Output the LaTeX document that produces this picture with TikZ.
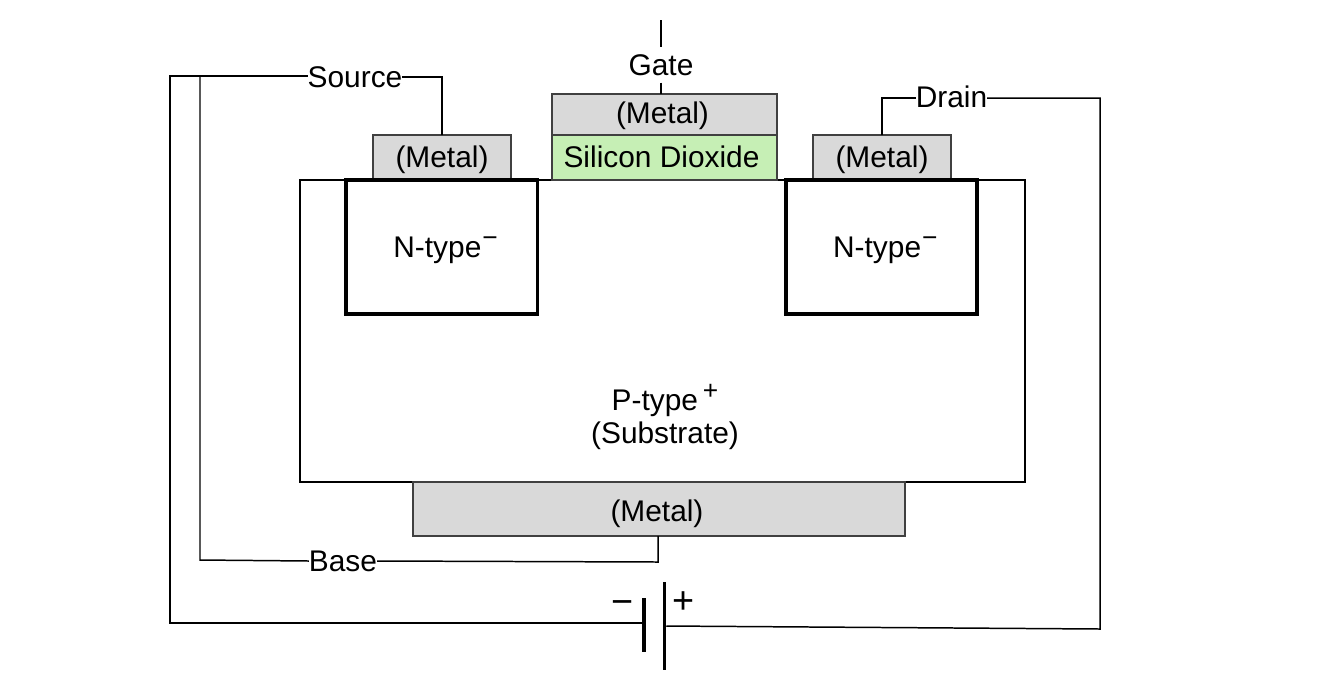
\documentclass[tikz,border=0pt]{standalone}
\usepackage{fontspec}
\setmainfont{Liberation Sans}
\definecolor{metalgray}{HTML}{D9D9D9}
\definecolor{metaledge}{HTML}{404040}
\definecolor{oxidegreen}{HTML}{C6EFB5}
\newcommand{\supsign}[1]{\raisebox{6.5pt}{\fontsize{15}{15}\selectfont #1}}
\begin{document}
\begin{tikzpicture}[x=0.02cm,y=0.02cm]
	  \tikzstyle{every node}+=[inner sep=0pt,outer sep=0pt,font=\fontsize{17}{20.5}\selectfont]
	  \tikzstyle{wire}=[black,line width=0.85pt]
	  \tikzstyle{metal}=[draw=metaledge,fill=metalgray,line width=1pt]
	  \tikzstyle{region}=[draw=black,line width=2.2pt,text height=16pt]
	  \tikzstyle{plate}=[fill=black,minimum width=0.07cm]
	  \tikzstyle{sign}=[font=\fontsize{21.5}{24}\selectfont]
	  \useasboundingbox (0,0) rectangle (1323,-698);
	  \node [draw=black,line width=0.85pt,minimum width=14.5cm,minimum height=6.04cm] (substrate) at (662.5,-331) {};
	  \node [align=center] (subtext) at (665,-417) {P-type\,\supsign{+}\\[-1.6pt](Substrate)};
	  \node [metal,text height=14.7pt,minimum width=2.76cm,minimum height=0.9cm] (sourcemetal) at (442,-157.5) {(Metal)};
	  \node [metal,text height=14.7pt,minimum width=2.76cm,minimum height=0.9cm] (drainmetal) at (882,-157.5) {(Metal)};
	  \node [metal,text height=13.6pt,minimum width=4.5cm,minimum height=0.82cm] (gatemetal) at (664.5,-114.5) {(Metal)\hspace*{2.3pt}};
	  \node [metal,fill=oxidegreen,text depth=1.1pt,minimum width=4.5cm,minimum height=0.9cm] (oxide) at (664.5,-157.5) {Silicon Dioxide\hspace*{3.4pt}};
	  \node [metal,text height=18pt,minimum width=9.84cm,minimum height=1.08cm] (basemetal) at (659,-509) {(Metal)\hspace*{2.3pt}};
	  \node [region,minimum width=3.83cm,minimum height=2.68cm] (nleft) at (441.75,-247) {\hspace*{4.4pt}N-type\hspace{0.6pt}\supsign{−}};
	  \node [region,minimum width=3.82cm,minimum height=2.68cm] (nright) at (881.5,-247) {\hspace*{4.4pt}N-type\hspace{0.6pt}\supsign{−}};
	  \node (source) at (355,-77) {Source};
	  \node (base) at (343,-561) {Base};
	  \node (drain) at (951.5,-97) {Drain};
	  \node [inner ysep=4pt] (gate) at (661,-65) {Gate};
	  \node [plate,minimum height=1.08cm] (negplate) at (644,-625) {};
	  \node [plate,minimum height=1.76cm] (posplate) at (664.5,-626) {};
	  \node [sign] (minus) at (623,-608) {−};
	  \node [sign] (plus) at (684,-603) {+};
	  \coordinate (gatetop) at (661,-20);
	  \coordinate (outertop) at (170,-76);
	  \coordinate (outerbot) at (170,-623);
	  \coordinate (innertop) at (200,-76);
	  \coordinate (innerbot) at (200,-560);
	  \coordinate (baseturn) at (658,-562);
	  \coordinate (drainturn) at (1100,-98);
	  \coordinate (batturn) at (1100,-629);
	  \draw [wire] (gatetop) -- (gate.north);
	  \draw [wire] (gate.south) -- (gate.south |- gatemetal.north);
	  \draw [wire] (sourcemetal.north) |- (source.east);
	  \draw [wire] (source.west |- outertop) -- (outertop) -- (outerbot) -- (negplate.west |- outerbot);
	  \draw [wire] (innertop) -- (innerbot) -- (base.west);
	  \draw [wire] (base.east) -- (baseturn) -- (baseturn |- basemetal.south);
	  \draw [wire] (drainmetal.north) |- (drain.west |- drainturn);
	  \draw [wire] (drain.east |- drainturn) -- (drainturn) -- (batturn) -- (posplate.east);
\end{tikzpicture}
\end{document}
